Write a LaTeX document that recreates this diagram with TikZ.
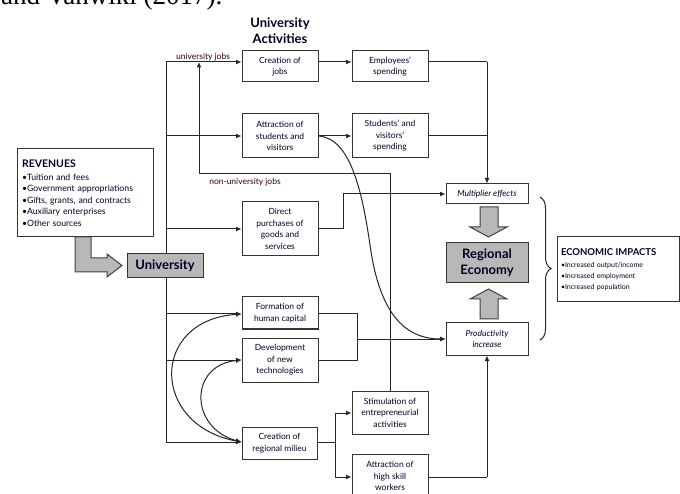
\documentclass[tikz,border=0pt]{standalone}
\usepackage{fontspec}
\setmainfont{Lato}
\newfontfamily\capfont{Liberation Serif}
\usetikzlibrary{arrows.meta,decorations.pathreplacing}
\begin{document}
\begin{tikzpicture}[x=1pt,y=-1pt,
  box/.style={draw=black!80, line width=1pt, fill=white, align=center,
    font=\fontsize{8.5}{11.5}\selectfont, inner sep=1pt, text=black!85!blue},
  graybox/.style={box, fill=black!28},
  conn/.style={line width=1pt, draw=black!85},
  arr/.style={conn, -{Latex[length=5.5pt,width=5pt]}},
  dbl/.style={conn, {Latex[length=5.5pt,width=5pt]}-{Latex[length=5.5pt,width=5pt]}},
  bigarrow/.style={draw=black!75, line width=1pt, fill=black!28},
  lbl/.style={font=\fontsize{8.5}{10}\selectfont, text=black!70!red!70!black, inner sep=0pt}]
\useasboundingbox (0,0) rectangle (680,494);
\begin{scope}
\clip (0,0) rectangle (680,494);
\node[anchor=base west, font=\capfont\fontsize{27}{27}\selectfont, inner sep=0pt] (cap) at (1,5) {and Vanwiki (2017).};
\end{scope}

% title
\node[align=center, font=\bfseries\fontsize{13}{16}\selectfont, text=black!85!blue] (title) at (280,31) {University\\Activities};

% boxes
\node[box, minimum width=136pt, minimum height=88pt, align=left, text width=126pt, font=\fontsize{8.7}{11.5}\selectfont] (rev) at (85,193)
  {{\bfseries\fontsize{10.5}{12}\selectfont REVENUES}\\[1pt]
   •Tuition and fees\\ •Government appropriations\\ •Gifts, grants, and contracts\\ •Auxiliary enterprises\\ •Other sources};
\node[graybox, minimum width=76pt, minimum height=24pt, font=\bfseries\fontsize{13}{15}\selectfont] (uni) at (165,266) {University};

\node[box, minimum width=76pt, minimum height=31pt] (job) at (280,66.5) {Creation of\\jobs};
\node[box, minimum width=76pt, minimum height=31pt] (emp) at (390,66.5) {Employees'\\spending};
\node[box, minimum width=76pt, minimum height=44pt] (att) at (280,136) {Attraction of\\students and\\visitors};
\node[box, minimum width=76pt, minimum height=44pt] (stu) at (390,136) {Students' and\\visitors'\\spending};
\node[box, minimum width=76pt, minimum height=54pt] (dir) at (280,229) {Direct\\purchases of\\goods and\\services};
\node[box, minimum width=76pt, minimum height=32pt] (form) at (280,313) {Formation of\\human capital};
\node[box, minimum width=76pt, minimum height=44pt] (dev) at (280,360) {Development\\of new\\technologies};
\node[box, minimum width=75pt, minimum height=32pt] (mil) at (279.5,443) {Creation of\\regional milieu};
\node[box, minimum width=76pt, minimum height=43pt] (stim) at (390,412.5) {Stimulation of\\entrepreneurial\\activities};
\node[box, minimum width=76pt, minimum height=44pt] (high) at (390,476) {Attraction of\\high skill\\workers};

\node[box, minimum width=82pt, minimum height=20pt, font=\itshape\fontsize{8.5}{10}\selectfont] (mult) at (487,194) {Multiplier effects};
\node[graybox, minimum width=82pt, minimum height=40pt, font=\bfseries\fontsize{13}{15.5}\selectfont] (reg) at (487,263) {Regional\\Economy};
\node[box, minimum width=82pt, minimum height=32pt, font=\itshape\fontsize{8.5}{11.5}\selectfont] (prod) at (487,339) {Productivity\\increase};

\node[box, minimum width=122pt, minimum height=65pt, align=left, text width=114pt, font=\fontsize{7}{11}\selectfont] (eco) at (618,269.5)
  {{\bfseries\fontsize{9.5}{12}\selectfont ECONOMIC IMPACTS}\\[1pt]
   •Increased output/income\\ •Increased employment\\ •Increased population};

% labels
\node[lbl] (lj) at (203,57) {university jobs};
\node[lbl] (lnj) at (245,182) {non-university jobs};

% trunk
\coordinate (tTop) at (166,62);
\coordinate (tBot) at (166,442);
\coordinate (tAtt) at (166,136);
\coordinate (tDir) at (166,229);
\coordinate (tForm) at (166,314);
\coordinate (tDev) at (166,360);
\draw[conn] (tTop) -- (uni.north -| tTop);
\draw[conn] (uni.south -| tTop) -- (tBot);
\draw[arr] (tTop) -- (tTop -| job.west);
\draw[arr] (tAtt) -- (tAtt -| att.west);
\draw[arr] (tDir) -- (tDir -| dir.west);
\draw[arr] (tForm) -- (tForm -| form.west);
\draw[arr] (tDev) -- (tDev -| dev.west);
\draw[arr] (tBot) -- (tBot -| mil.west);

% spending
\draw[arr] (tTop -| job.east) -- (tTop -| emp.west);
\draw[arr] (att.east) -- (stu.west);
\coordinate (mx) at (487,62);
\draw[conn] (tTop -| emp.east) -- (mx);
\draw[arr] (mx) -- (mult.north);
\draw[conn] (stu.east) -- (stu.east -| mx);
\coordinate (dk) at (343,229);
\draw[arr] (dir.east) -- (dk) -- (dk |- mult.west) -- (mult.west);

% non-university jobs
\coordinate (nj1) at (390,174);
\coordinate (nj2) at (199,174);
\draw[arr] (stim.north) -- (nj1) -- (nj2) -- (nj2 |- tTop);

% attraction curve
\draw[arr] (att.east) .. controls (350,138) and (362,190) .. (370,245) .. controls (380,318) and (408,339) .. (prod.west);

% formation/dev bracket
\coordinate (fb) at (357,314);
\coordinate (db) at (357,360);
\coordinate (pb) at (357,339);
\draw[conn] (fb -| form.east) -- (fb) -- (db) -- (db -| dev.east);
\draw[arr] (pb) -- (pb -| prod.west);

% milieu
\coordinate (mk1) at (335,413);
\coordinate (mk2) at (335,477);
\draw[conn] (tBot -| mil.east) -- (tBot -| mk1);
\draw[conn] (mk1) -- (mk2);
\draw[arr] (mk1) -- (mk1 -| stim.west);
\draw[arr] (mk2) -- (mk2 -| high.west);
\coordinate (hk) at (487,477);
\draw[conn] (hk -| high.east) -- (hk);
\draw[arr] (hk) -- (prod.south);

% double curves
\draw[dbl] (tBot -| mil.west) .. controls (150,425) and (150,320) .. (tForm -| form.west);
\draw[dbl] (tBot -| mil.west) .. controls (189,428) and (189,365) .. (tDev -| dev.west);

% big arrows
\draw[bigarrow] (480,207) -- (498,207) -- (498,227) -- (507,227) -- (488.5,237) -- (470,227) -- (480,227) -- cycle;
\draw[bigarrow] (480,319) -- (498,319) -- (498,299) -- (507,299) -- (488.5,289) -- (470,299) -- (480,299) -- cycle;
\draw[bigarrow] (75,237) -- (91,237) -- (91,258) -- (107,258) -- (107,254) -- (122,265.5) -- (107,277) -- (107,272) -- (75,272) -- cycle;

% brace
\draw[conn, decorate, decoration={brace, amplitude=11pt}] (540,197) -- (540,340);
\end{tikzpicture}
\end{document}
